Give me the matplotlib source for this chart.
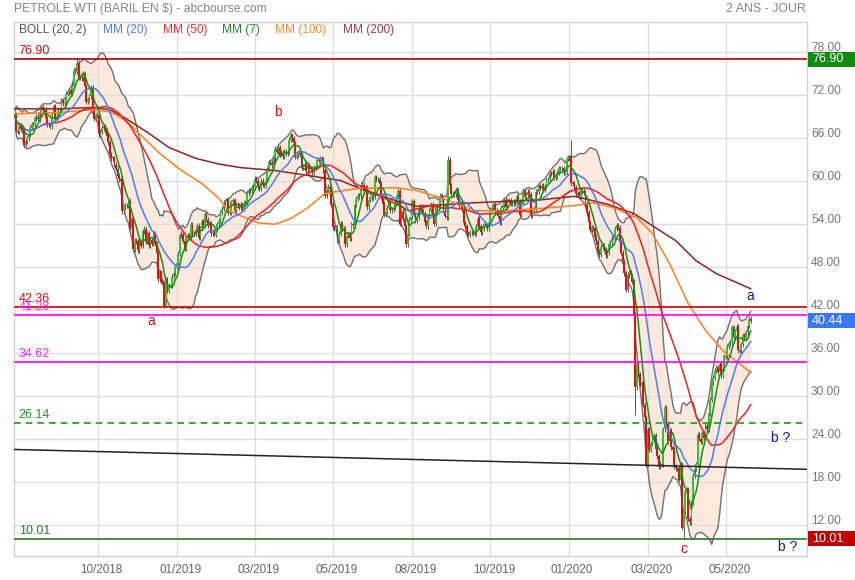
import numpy as np
import pandas as pd
import matplotlib
matplotlib.use("Agg")
import matplotlib.pyplot as plt
from matplotlib.patches import Rectangle
from matplotlib.transforms import blended_transform_factory, ScaledTranslation

plt.rcParams['font.family'] = ['Liberation Sans', 'DejaVu Sans']

# ---------------- data (daily closes, WTI) ----------------
c_2018_08 = [69.01, 69.17, 66.94, 66.81, 67.63, 67.20, 67.04, 65.01, 65.46, 65.91, 66.43, 67.35, 67.86, 67.83, 68.72, 68.87, 68.53, 69.51, 70.25, 69.80]
c_2018_09 = [69.87, 68.72, 67.77, 67.75, 67.54, 69.25, 70.37, 68.59, 68.99, 69.85, 69.85, 71.12, 70.80, 70.78, 72.08, 72.28, 72.57, 72.12, 73.25]
c_2018_10 = [75.30, 75.23, 76.41, 74.33, 74.34, 74.29, 74.96, 73.17, 70.97, 71.34, 71.78, 72.92, 69.75, 68.65, 69.12, 69.17, 66.43, 66.82, 67.33, 67.59, 67.04, 66.18, 65.31]
c_2018_11 = [63.69, 63.14, 63.10, 62.21, 61.67, 60.67, 60.19, 59.93, 55.69, 56.25, 56.46, 56.46, 57.20, 53.43, 54.63, 50.42, 51.63, 51.56, 50.29, 51.45, 50.93]
c_2018_12 = [52.95, 53.25, 51.49, 52.61, 51.00, 51.65, 51.15, 52.58, 51.20, 49.88, 46.24, 47.20, 45.88, 45.59, 42.53, 46.22, 44.61, 45.33, 45.41]
c_2019_01 = [46.54, 47.09, 47.96, 48.52, 49.78, 52.36, 52.59, 51.59, 50.51, 52.11, 52.31, 52.07, 53.80, 52.57, 52.62, 53.13, 53.69, 51.99, 53.31, 54.23, 53.79]
c_2019_02 = [55.26, 54.56, 53.66, 54.01, 52.64, 52.72, 52.41, 53.10, 53.90, 54.41, 55.59, 56.09, 56.92, 57.07, 57.26, 55.48, 55.50, 56.94, 57.22]
c_2019_03 = [55.80, 56.59, 56.56, 56.22, 56.66, 56.07, 56.79, 56.87, 58.26, 58.61, 58.52, 59.09, 59.03, 60.23, 59.98, 59.04, 58.82, 59.94, 59.41, 59.30, 60.14]
c_2019_04 = [61.59, 62.58, 62.46, 62.10, 63.08, 64.40, 64.05, 64.61, 63.58, 63.89, 63.40, 64.05, 63.76, 64.00, 65.70, 66.30, 65.89, 65.21, 63.30, 63.50, 63.91]
c_2019_05 = [63.60, 61.81, 61.94, 62.25, 61.40, 62.12, 61.70, 61.66, 61.04, 61.78, 62.02, 62.87, 62.76, 63.10, 62.99, 61.42, 57.91, 58.63, 59.14, 58.81, 56.59, 53.50]
c_2019_06 = [53.25, 53.48, 51.68, 52.59, 53.99, 53.26, 53.27, 51.14, 52.28, 52.51, 51.93, 53.90, 53.76, 56.65, 57.43, 57.90, 57.83, 59.38, 59.43, 58.47]
c_2019_07 = [59.09, 56.25, 57.34, 57.51, 57.66, 57.83, 60.43, 60.20, 60.21, 59.58, 57.62, 56.78, 55.30, 55.63, 56.22, 57.00, 55.88, 56.02, 56.20, 56.87, 58.05, 58.58]
c_2019_08 = [53.95, 55.66, 54.69, 53.63, 51.09, 52.54, 54.50, 54.93, 57.10, 55.23, 54.47, 54.87, 56.21, 56.34, 55.68, 55.35, 54.17, 53.64, 54.93, 55.78, 56.71, 55.10]
c_2019_09 = [53.94, 56.26, 56.30, 56.52, 57.85, 57.40, 55.75, 55.09, 54.85, 62.90, 59.34, 58.11, 58.13, 58.09, 58.64, 57.29, 56.49, 56.41, 55.91, 54.07]
c_2019_10 = [53.62, 52.64, 52.45, 52.81, 52.75, 52.63, 52.59, 53.55, 54.70, 53.59, 52.81, 53.36, 53.93, 53.78, 53.31, 54.16, 55.97, 56.23, 56.66, 55.81, 55.54, 55.06, 54.18]
c_2019_11 = [56.20, 56.54, 57.23, 56.35, 57.15, 57.24, 56.86, 56.80, 57.12, 56.77, 57.72, 57.05, 55.21, 57.11, 58.58, 57.77, 58.01, 58.41, 58.11, 55.17]
c_2019_12 = [55.96, 56.10, 58.43, 58.43, 59.20, 59.02, 59.24, 58.76, 59.18, 60.07, 60.21, 60.94, 60.93, 61.22, 60.44, 60.52, 61.11, 61.68, 61.72, 61.68, 61.06]
c_2020_01 = [61.18, 63.05, 63.27, 62.70, 59.61, 59.56, 59.04, 58.08, 58.23, 57.81, 58.52, 58.54, 58.34, 56.74, 55.59, 54.19, 53.14, 53.48, 53.33, 52.14, 51.56]
c_2020_02 = [50.11, 49.61, 50.75, 50.95, 50.32, 49.57, 49.94, 51.17, 51.42, 52.05, 52.05, 53.29, 53.78, 53.38, 51.43, 49.90, 48.73, 47.09, 44.76]
c_2020_03 = [46.75, 47.18, 46.78, 45.90, 41.28, 31.13, 34.36, 32.98, 31.50, 31.73, 28.70, 26.95, 20.37, 25.22, 22.43, 23.36, 24.01, 24.49, 22.60, 21.51, 20.09, 20.48]
c_2020_04 = [20.31, 25.32, 28.34, 26.08, 23.63, 25.09, 22.76, 22.41, 20.11, 19.87, 19.87, 18.27, 20.43, 11.57, 13.78, 16.50, 16.94, 12.78, 12.34, 15.06, 18.84]
c_2020_05 = [19.78, 20.39, 24.56, 23.99, 23.55, 24.74, 24.14, 25.78, 25.29, 27.56, 29.43, 31.82, 32.50, 33.49, 33.92, 33.25, 34.35, 32.81, 33.71, 35.49]
c_2020_06 = [35.44, 36.81, 37.29, 37.41, 39.55, 38.19, 38.94, 39.60, 36.34, 36.26, 37.12, 38.38, 37.96, 38.84, 39.75, 40.73, 40.44]
first_open = 68.49

# notable extremes (bar number, value)
high_bars = [41, 279, 358]
high_vals = [76.90, 63.38, 65.65]
low_bars = [98, 399, 406, 430]
low_vals = [42.36, 27.34, 20.06, 10.01]

# long moving averages (bar number, value)
mm100_bars = [0, 30, 51, 62, 72, 94, 108, 121, 132, 138, 157, 168, 178, 189, 200, 221, 245, 259, 274, 296, 317, 338, 360, 372, 385, 400, 410, 421, 433, 444, 455, 473]
mm100_vals = [69.3, 69.5, 69.9, 69.6, 68.4, 63.8, 61.4, 59.6, 57.5, 55.8, 54.1, 53.9, 54.7, 56.2, 58.2, 58.9, 59.0, 58.6, 57.6, 55.8, 55.8, 56.1, 56.5, 56.9, 56.2, 54.8, 52.6, 48.4, 42.8, 39.1, 36.3, 33.2]
mm200_bars = [0, 30, 51, 62, 72, 87, 100, 117, 132, 146, 168, 189, 210, 221, 232, 245, 259, 296, 317, 338, 360, 381, 398, 412, 425, 438, 451, 473]
mm200_vals = [70.0, 70.0, 70.2, 69.9, 68.7, 66.6, 64.6, 63.1, 62.3, 61.8, 61.4, 60.7, 60.0, 59.0, 58.2, 57.2, 56.4, 56.9, 57.1, 57.3, 57.8, 56.7, 55.4, 53.4, 51.6, 48.8, 47.0, 44.9]

trend_bars = [0.0, 510.0]
trend_vals = [22.48, 19.70]

tick_pos = [54.5, 105.2, 155.3, 205.3, 256.0, 306.0, 356.2, 406.9, 457.0]
tick_labels = ['10/2018', '01/2019', '03/2019', '05/2019', '08/2019', '10/2019', '01/2020', '03/2020', '05/2020']
y_ticks = [12, 18, 24, 30, 36, 42, 48, 54, 60, 66, 72, 78]

levels = [76.90, 42.36, 41.28, 34.62, 26.14, 10.01]
level_colors = ['#b00000', '#cc0000', '#ff00ff', '#ff00ff', '#1a9a1a', '#2a7a2a']
level_text_colors = ['#cc1111', '#cc1111', '#ff22ff', '#ff22ff', '#2a8a2a', '#2a7a2a']
level_styles = ['-', '-', '-', '-', (0, (4, 3)), '-']

last_close = 40.44

# ---------------- computations ----------------
closes = np.array(c_2018_08 + c_2018_09 + c_2018_10 + c_2018_11 + c_2018_12 +
                  c_2019_01 + c_2019_02 + c_2019_03 + c_2019_04 + c_2019_05 + c_2019_06 +
                  c_2019_07 + c_2019_08 + c_2019_09 + c_2019_10 + c_2019_11 + c_2019_12 +
                  c_2020_01 + c_2020_02 + c_2020_03 + c_2020_04 + c_2020_05 + c_2020_06)
n = len(closes)
idx = np.arange(n)
opens = np.concatenate([[first_open], closes[:-1]])
wick_pad = 0.35
highs = np.maximum(opens, closes) + wick_pad
lows = np.minimum(opens, closes) - wick_pad
for b, v in zip(high_bars, high_vals):
    highs[b] = v
for b, v in zip(low_bars, low_vals):
    lows[b] = v

s = pd.Series(closes)
mm7 = s.rolling(7, min_periods=1).mean()
mm20 = s.rolling(20, min_periods=1).mean()
mm50 = s.rolling(50, min_periods=1).mean()
sd20 = s.rolling(20, min_periods=1).std(ddof=0)
bb_up = mm20 + 2 * sd20
bb_lo = mm20 - 2 * sd20

# ---------------- figure ----------------
fig = plt.figure(figsize=(8.55, 5.8), dpi=100)
ax = fig.add_axes([14 / 855, (580 - 555.7) / 580, (806.7 - 14) / 855, (555.7 - 22) / 580])
ax.set_xlim(0.6, 508.9)
ax.set_ylim(7.65, 82.12)

ax.set_xticks(tick_pos)
ax.set_yticks(y_ticks)
ax.tick_params(length=0, labelbottom=False, labelleft=False, labelright=False)
ax.grid(True, color='#dedede', lw=1.0, zorder=0)
for sp in ax.spines.values():
    sp.set_color('#d4d4d4')
    sp.set_linewidth(1.0)

# Bollinger
ax.fill_between(idx, bb_lo, bb_up, color='#fde9de', zorder=1, lw=0)
ax.plot(idx, bb_up, color='#707070', lw=1.0, zorder=2)
ax.plot(idx, bb_lo, color='#707070', lw=1.0, zorder=2)

# candles
up = closes >= opens
ax.vlines(idx, lows, highs, color='#555555', lw=0.7, zorder=3)
body_h = np.maximum(np.abs(closes - opens), 0.12)
body_b = np.minimum(opens, closes)
ax.bar(idx[up], body_h[up], bottom=body_b[up], width=1.15, color='#33c133', lw=0, zorder=3.5)
ax.bar(idx[~up], body_h[~up], bottom=body_b[~up], width=1.15, color='#e01010', lw=0, zorder=3.5)

# moving averages
ax.plot(mm200_bars, mm200_vals, color='#8e2424', lw=1.1, zorder=4)
ax.plot(mm100_bars, mm100_vals, color='#ff7f1e', lw=1.1, zorder=4)
ax.plot(idx, mm50, color='#ee2020', lw=1.1, zorder=4)
ax.plot(idx, mm20, color='#4a7cf2', lw=1.1, zorder=4)
ax.plot(idx, mm7, color='#178f17', lw=1.1, zorder=4)

# horizontal levels
for v, c, ls in zip(levels, level_colors, level_styles):
    ax.axhline(v, color=c, lw=1.2, ls=ls, zorder=5)
dy = ScaledTranslation(0, 0.02, fig.dpi_scale_trans)
bl = blended_transform_factory(ax.transAxes, ax.transData)
for v, c in zip(levels, level_text_colors):
    ax.text(0.006, v, f'{v:.2f}', transform=bl + dy, color=c, fontsize=9,
            ha='left', va='bottom', zorder=6)

# trend line
ax.plot(trend_bars, trend_vals, color='#222222', lw=1.1, zorder=5)

# annotations
ann = [(170, 69.6, 'b', '#cc1111'), (88.5, 40.4, 'a', '#cc1111'), (430, 8.6, 'c', '#cc1111'),
       (473, 43.9, 'a', '#1c1c8a'), (492.5, 24.1, 'b ?', '#1c1c8a'), (496.5, 8.8, 'b ?', '#1c1c8a')]
for x, y, t, c in ann:
    ax.text(x, y, t, color=c, fontsize=10, ha='center', va='center', zorder=6)

# legend row
leg = [(19, 'BOLL (20, 2)', '#555555'), (103, 'MM (20)', '#4f7ff5'), (163, 'MM (50)', '#f03030'),
       (222, 'MM (7)', '#2a8a2a'), (275, 'MM (100)', '#ff8833'), (343, 'MM (200)', '#a04040')]
for px, t, c in leg:
    fig.text(px / 855, 1 - 30 / 580, t, color=c, fontsize=8.6, ha='left', va='center')

# titles
fig.text(14 / 855, 1 - 9 / 580, 'PETROLE WTI (BARIL EN $) - abcbourse.com', color='#858585',
         fontsize=8.7, ha='left', va='center')
fig.text(806 / 855, 1 - 9 / 580, '2 ANS - JOUR', color='#858585', fontsize=8.9, ha='right', va='center')

# right axis labels
rt = bl + ScaledTranslation(0.043, 0.037, fig.dpi_scale_trans)
for v in y_ticks:
    ax.text(1.0, v, f'{v:.2f}', transform=rt, color='#777777', fontsize=8.6, ha='left', va='center', clip_on=False)

# bottom labels
bt = blended_transform_factory(ax.transData, ax.transAxes) + ScaledTranslation(0.035, -0.143, fig.dpi_scale_trans)
for p, t in zip(tick_pos, tick_labels):
    ax.text(p, 0, t, transform=bt, color='#666666', fontsize=8.4, ha='center', va='center', clip_on=False)

# right value boxes
box_w = (855 - 808) / (806.7 - 14)
box_h = 15 / 7.167
for v, fc in [(76.90, '#128a12'), (last_close, '#3b78f0'), (10.01, '#c00000')]:
    ax.add_patch(Rectangle((1.0016, v - box_h / 2), box_w, box_h, transform=bl, facecolor=fc,
                           edgecolor='none', clip_on=False, zorder=7))
    ax.text(1.0016, v, f'{v:.2f}', transform=bl + ScaledTranslation(0.04, 0, fig.dpi_scale_trans),
            color='white', fontsize=9, ha='left', va='center', clip_on=False, zorder=8)

fig.savefig('out.png', dpi=100)
